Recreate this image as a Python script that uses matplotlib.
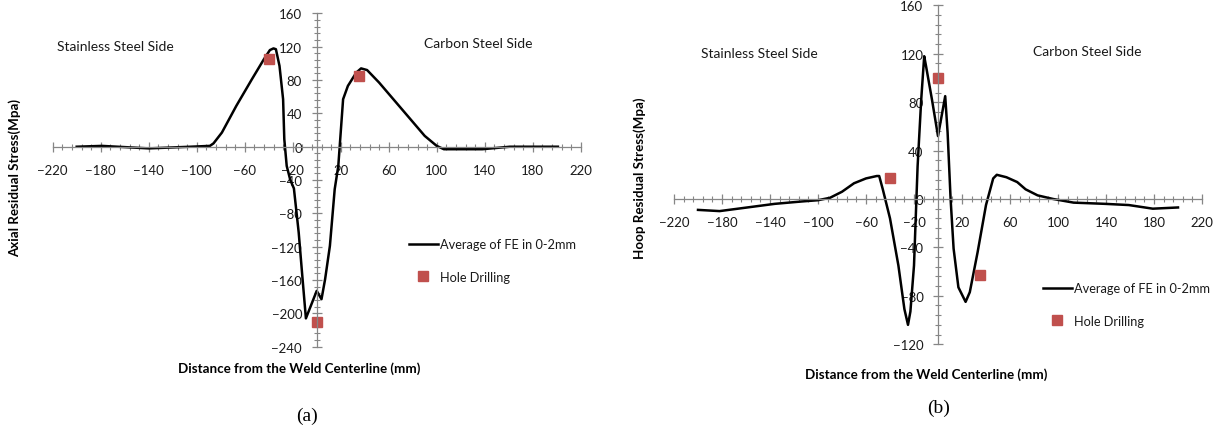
import matplotlib
matplotlib.use("Agg")
import matplotlib.pyplot as plt
import numpy as np

# (a) axial residual stress, average of FE in 0-2mm
axial_x = [-200, -179, -140, -105, -89, -86, -79, -67, -54, -44, -39, -36, -34,
           -31, -28, -27, -25, -22, -19, -15, -12, -9, -6, 0, 4, 7, 11, 15, 18,
           20, 22, 26, 33, 37, 42, 52, 71, 90, 100, 106, 138, 161, 201]
axial_y = [0, 1, -2, 0, 1, 4, 17, 49, 81, 105, 116, 118, 117,
           97, 57, 9, -23, -40, -50, -103, -155, -206, -195, -173, -183, -159, -119, -51, -23,
           17, 57, 73, 89, 94, 92, 77, 45, 13, 1, -3, -3, 0, 0]
axial_hole_x = [-40, 35, 0]
axial_hole_y = [105, 85, -210]

# (b) hoop residual stress
hoop_x = [-200, -182, -159, -136, -113, -100, -90, -80, -70, -60, -51, -49,
          -46, -40, -33, -28, -25, -23, -20, -17, -14, -11.5, -10, -5, 0, 2,
          6, 8, 10.5, 13, 17, 23, 26.5, 33, 40, 46, 49, 57, 66, 73, 83, 96,
          113, 139, 159, 179, 200]
hoop_y = [-9, -10, -7, -4, -2, -1, 1, 6, 13, 17, 19, 19,
          8, -16, -55, -91, -104, -93, -55, 27, 82, 118, 110, 82, 52, 63,
          85, 55, 0, -41, -73, -85, -77, -44, -5, 17, 20, 18, 14, 8, 3, 0,
          -3, -4, -5, -8, -7]
hoop_hole_x = [-40, 0, 35]
hoop_hole_y = [17, 100, -63]

x_ticks = np.arange(-220, 221, 40)
axial_yticks = np.arange(-240, 161, 40)
hoop_yticks = np.arange(-120, 161, 40)

W, H = 1215, 431
plt.rcParams['font.family'] = ['Lato', 'DejaVu Sans']
TXT = '#1a1a1a'
AXC = '#868686'
FS = 10
LEG_FS = 9.2

fig = plt.figure(figsize=(W / 100, H / 100), dpi=100)


def px(x, y):
    return x / W, 1 - y / H


def setup(ax, yticks, ylim):
    ax.set_xlim(-220, 220)
    ax.set_ylim(*ylim)
    for s in ('top', 'right'):
        ax.spines[s].set_visible(False)
    ax.spines['left'].set_position(('data', 0))
    ax.spines['bottom'].set_position(('data', 0))
    for s in ('left', 'bottom'):
        ax.spines[s].set_color(AXC)
        ax.spines[s].set_linewidth(0.9)
    ax.set_xticks(x_ticks)
    ax.set_yticks(yticks)
    ax.set_xticks(np.arange(-220, 221, 8), minor=True)
    ax.set_yticks(np.arange(ylim[0], ylim[1] + 1, 8), minor=True)
    ax.tick_params(which='major', direction='inout', length=7, width=0.9, color=AXC,
                   labelsize=9.5, labelcolor=TXT)
    ax.tick_params(which='minor', direction='inout', length=4, width=0.8, color=AXC)
    ax.tick_params(axis='x', which='major', pad=9)
    ax.tick_params(axis='y', which='major', pad=7)
    ax.patch.set_alpha(0)


def add_legend(ax, anchor):
    ax.legend(loc='center left', bbox_to_anchor=anchor, bbox_transform=fig.transFigure,
              frameon=False, fontsize=LEG_FS, borderpad=0, handlelength=2.2,
              handletextpad=0.2, labelspacing=1.6, labelcolor=TXT)


ax1 = fig.add_axes([52.7 / W, 1 - 347.7 / H, 528 / W, 333.3 / H])
setup(ax1, axial_yticks, (-240, 160))
ax1.plot(axial_x, axial_y, color='black', lw=1.8, label='Average of FE in 0-2mm')
ax1.plot(axial_hole_x, axial_hole_y, ls='none', marker='s', ms=7, color='#C0504D',
         label='Hole Drilling')
add_legend(ax1, px(403, 261.5))

ax2 = fig.add_axes([674 / W, 1 - 345.2 / H, 528 / W, 338.8 / H])
setup(ax2, hoop_yticks, (-120, 160))
ax2.plot(hoop_x, hoop_y, color='black', lw=1.8, label='Average of FE in 0-2mm')
ax2.plot(hoop_hole_x, hoop_hole_y, ls='none', marker='s', ms=7, color='#C0504D',
         label='Hole Drilling')
add_legend(ax2, px(1037, 305.5))

# side annotations
fig.text(*px(57, 47), 'Stainless Steel Side', fontsize=FS, color=TXT, va='center')
fig.text(*px(424, 44), 'Carbon Steel Side', fontsize=FS, color=TXT, va='center')
fig.text(*px(701, 54), 'Stainless Steel Side', fontsize=FS, color=TXT, va='center')
fig.text(*px(1033, 52), 'Carbon Steel Side', fontsize=FS, color=TXT, va='center')

# axis titles
fig.text(*px(299, 369), 'Distance from the Weld Centerline (mm)', fontsize=9.6,
         fontweight='bold', ha='center', va='center', color='black')
fig.text(*px(926, 375), 'Distance from the Weld Centerline (mm)', fontsize=9.6,
         fontweight='bold', ha='center', va='center', color='black')
fig.text(*px(15, 178), 'Axial Residual Stress(Mpa)', fontsize=9.6, fontweight='bold',
         rotation=90, ha='center', va='center', color='black')
fig.text(*px(639.5, 178), 'Hoop Residual Stress(Mpa)', fontsize=9.6, fontweight='bold',
         rotation=90, ha='center', va='center', color='black')

# panel captions
fig.text(*px(307, 416), '(a)', fontsize=14, family='Liberation Serif', ha='center', va='center')
fig.text(*px(939, 408), '(b)', fontsize=14, family='Liberation Serif', ha='center', va='center')

fig.savefig('out.png', dpi=100)
